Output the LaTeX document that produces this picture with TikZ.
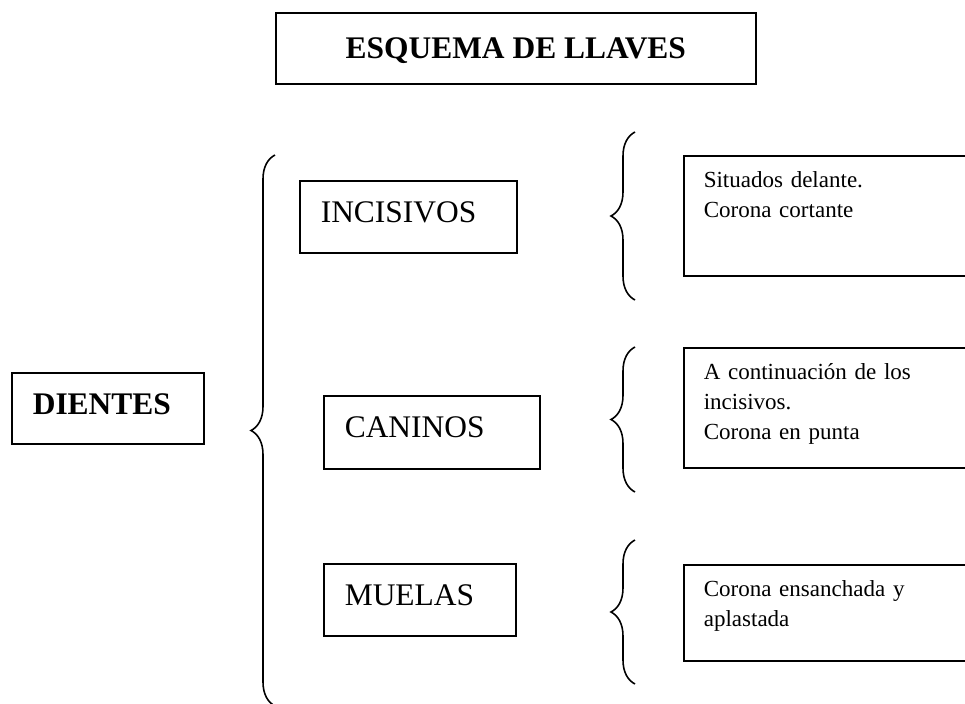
\documentclass[tikz,border=0pt]{standalone}
\usepackage{fontspec}
\setmainfont{Liberation Serif}
\usepackage{tikz}
\usetikzlibrary{decorations.pathreplacing}

\begin{document}
\begin{tikzpicture}[
    caja/.style={draw, line width=0.9pt, anchor=north west, inner ysep=0pt,
                 inner xsep=0.42cm, align=left,
                 font=\fontsize{17.9}{21}\selectfont, text height=0.84cm},
    nota/.style={draw, line width=0.9pt, anchor=north west, inner ysep=0pt,
                 inner xsep=0.4cm, align=left, text width=5.54cm,
                 font=\fontsize{13.1}{17.1}\selectfont, text height=0.64cm},
    llave/.style={line width=0.9pt, decorate,
                  decoration={brace, amplitude=0.48cm}}
]
\useasboundingbox (0,0) rectangle (19.3,-14.08);

% --- titulo ---
\node[draw, line width=0.9pt, anchor=north west, inner sep=0pt,
      minimum width=9.6cm, text height=0.92cm, text depth=0.5cm,
      font=\fontsize{17.9}{21}\selectfont\bfseries] (titulo) at (5.5,-0.24) {ESQUEMA DE LLAVES};

% --- cajas ---
\node[caja, text width=3.0cm, text depth=0.58cm, font=\fontsize{17.9}{21}\selectfont\bfseries]
    (dientes) at (0.22,-7.44) {DIENTES};
\node[caja, text width=3.5cm, text depth=0.6cm]  (incisivos) at (5.98,-3.6)  {INCISIVOS};
\node[caja, text width=3.48cm, text depth=0.62cm] (caninos)  at (6.46,-7.9)  {CANINOS};
\node[caja, text width=3.0cm, text depth=0.6cm]  (muelas)    at (6.46,-11.26) {MUELAS};

% --- notas ---
\node[nota, text depth=1.76cm] (nota1) at (13.66,-3.1)   {Situados delante.\\Corona cortante};
\node[nota, text depth=1.76cm] (nota2) at (13.66,-6.94)  {A continuación de los\\incisivos.\\Corona en punta};
\node[nota, text depth=1.28cm] (nota3) at (13.66,-11.28) {Corona ensanchada y\\aplastada};

% --- llaves ---
\coordinate (g0) at (5.5,-14.12);  \coordinate (g1) at (5.5,-3.1);
\coordinate (a0) at (12.7,-6.0);   \coordinate (a1) at (12.7,-2.64);
\coordinate (b0) at (12.7,-9.84);  \coordinate (b1) at (12.7,-6.94);
\coordinate (c0) at (12.7,-13.68); \coordinate (c1) at (12.7,-10.8);

\draw[llave] (g0) -- (g1);
\draw[llave] (a0) -- (a1);
\draw[llave] (b0) -- (b1);
\draw[llave] (c0) -- (c1);

\end{tikzpicture}
\end{document}
